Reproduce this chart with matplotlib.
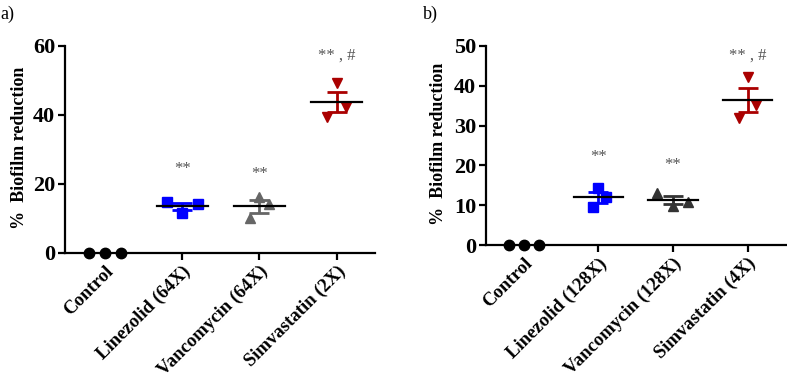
import matplotlib
matplotlib.use("Agg")
import matplotlib.pyplot as plt
import numpy as np

plt.rcParams['font.family'] = ['Liberation Serif', 'DejaVu Serif']

# panel a data (% biofilm reduction, three replicates each)
labels_a = ['Control', 'Linezolid (64X)', 'Vancomycin (64X)', 'Simvastatin (2X)']
control_a = [0, 0, 0]
linezolid_a = [14.8, 11.6, 14.2]
vancomycin_a = [10.1, 16.2, 14.2]
simvastatin_a = [39.4, 49.3, 42.3]
stars_a = ['', '**', '**', '** , #']
star_y_a = [0, 22, 20.5, 55]

# panel b data
labels_b = ['Control', 'Linezolid (128X)', 'Vancomycin (128X)', 'Simvastatin (4X)']
control_b = [0, 0, 0]
linezolid_b = [9.5, 14.3, 12.1]
vancomycin_b = [13.1, 9.8, 10.8]
simvastatin_b = [31.9, 42.2, 35.2]
stars_b = ['', '**', '**', '** , #']
star_y_b = [0, 20, 18, 45.5]

# small horizontal scatter of replicates (as in the figure)
jitter_a = [[-0.21, 0, 0.21], [-0.2, 0, 0.2], [-0.12, 0, 0.12], [-0.12, 0, 0.12]]
jitter_b = [[-0.2, 0, 0.2], [-0.08, 0, 0.1], [-0.22, 0, 0.2], [-0.11, 0, 0.12]]

markers = ['o', 's', '^', 'v']
colors_a = ['black', '#0000ff', '#666666', '#aa0000']
colors_b = ['black', '#0000ff', '#333333', '#aa0000']


def dot_plot(ax, groups, labels, jitter, colors, stars, star_y, ymax, step, xlim, label_x):
    for i, vals in enumerate(groups):
        vals = np.array(vals, dtype=float)
        xs = i + np.array(jitter[i])
        ax.plot(xs, vals, linestyle='none', marker=markers[i], color=colors[i],
                markersize=7.5, clip_on=False, zorder=3)
        if i > 0:
            m = vals.mean()
            sem = vals.std(ddof=1) / np.sqrt(len(vals))
            ax.errorbar(i, m, yerr=sem, color=colors[i], capsize=7, elinewidth=2,
                        capthick=2, zorder=4)
            ax.plot([i - 0.33, i + 0.33], [m, m], color='black', lw=1.6, zorder=5)
            ax.text(i, star_y[i], stars[i], ha='center', va='bottom',
                    fontsize=12, color='#555555')

    ax.set_ylim(0, ymax)
    ax.set_xlim(*xlim)
    ax.set_yticks(np.arange(0, ymax + 1, step))
    ax.set_xticks(range(len(labels)))
    ax.set_xticklabels(labels, rotation=45, ha='right', rotation_mode='anchor',
                       fontsize=13.5, fontweight='bold')
    ax.xaxis.get_major_ticks()[0].tick1line.set_visible(False)
    for t in ax.get_yticklabels():
        t.set_fontweight('bold')
        t.set_fontsize(16)
    ax.set_ylabel('%  Biofilm reduction', fontsize=13, fontweight='bold')
    ax.yaxis.set_label_coords(label_x, 0.51)
    ax.spines['top'].set_visible(False)
    ax.spines['right'].set_visible(False)
    ax.spines['left'].set_linewidth(1.6)
    ax.spines['bottom'].set_linewidth(1.6)
    ax.tick_params(width=1.6, length=5, pad=2)


fig = plt.figure(figsize=(7.87, 3.82), dpi=100)

ax1 = fig.add_axes([0.0826, 0.3377, 0.394, 0.542])
dot_plot(ax1, [control_a, linezolid_a, vancomycin_a, simvastatin_a], labels_a,
         jitter_a, colors_a, stars_a, star_y_a, 60, 20, (-0.52, 3.5), -0.12)

ax2 = fig.add_axes([0.6175, 0.3586, 0.3825, 0.521])
dot_plot(ax2, [control_b, linezolid_b, vancomycin_b, simvastatin_b], labels_b,
         jitter_b, colors_b, stars_b, star_y_b, 50, 10, (-0.51, 3.53), -0.13)

fig.text(0.001, 0.985, 'a)', fontsize=13, va='top')
fig.text(0.538, 0.985, 'b)', fontsize=13, va='top')

fig.savefig('out.png', dpi=100)
